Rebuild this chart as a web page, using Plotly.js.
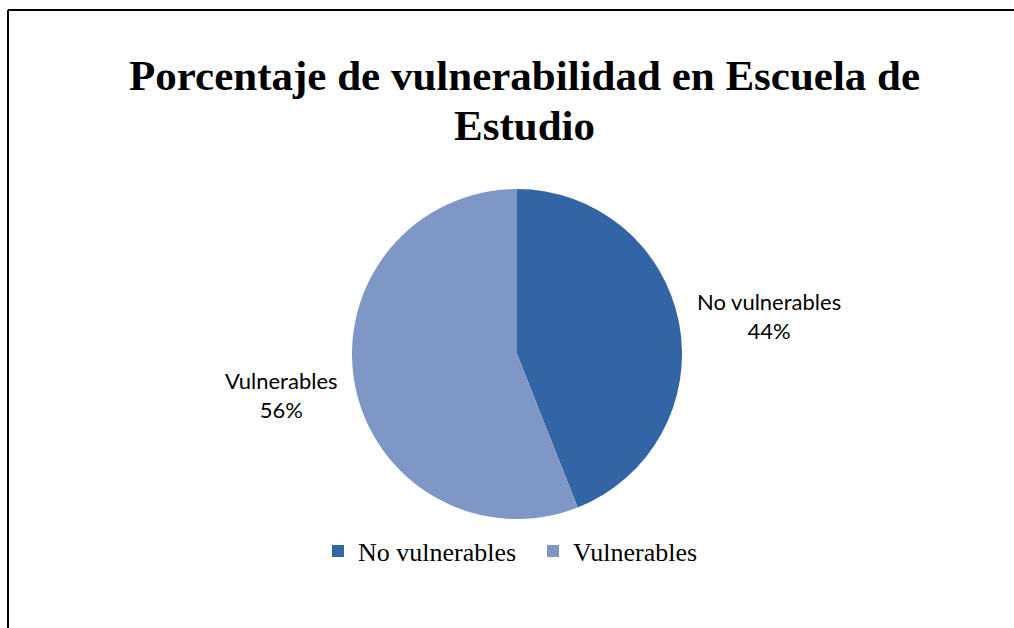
<!DOCTYPE html>
<html>
<head>
<meta charset="utf-8">
<script src="https://cdn.plot.ly/plotly-3.0.1.min.js"></script>
<style>html,body{margin:0;padding:0;background:#fff;}#chart{width:1014px;height:628px;}</style>
</head>
<body>
<div id="chart"></div>
<script>
const titleLines = ["Porcentaje de vulnerabilidad en Escuela de", "Estudio"];
const categories = ["No vulnerables", "Vulnerables"];
const percentages = [44, 56];
const sliceColors = ["#3264A6", "#7F97C6"];

const labelPos = [
  {x: 769 / 1014, y: 1 - 316 / 628},
  {x: 281 / 1014, y: 1 - 395 / 628}
];
const titleY = [1 - 75 / 628, 1 - 125 / 628];

const trace = {
  type: "pie",
  labels: categories,
  values: percentages,
  sort: false,
  direction: "clockwise",
  rotation: 0,
  textinfo: "none",
  hoverinfo: "none",
  marker: {colors: sliceColors, line: {width: 0}},
  domain: {x: [352 / 1014, 682 / 1014], y: [1 - 519 / 628, 1 - 189 / 628]}
};

const labelAnns = categories.map((c, i) => ({
  xref: "paper", yref: "paper",
  x: labelPos[i].x, y: labelPos[i].y,
  xanchor: "center", yanchor: "middle",
  text: c + "<br>" + percentages[i] + "%",
  showarrow: false,
  align: "center",
  font: {family: "Lato, 'Liberation Sans', sans-serif", size: 22, color: "#000"}
}));

const titleAnns = titleLines.map((t, i) => ({
  xref: "paper", yref: "paper",
  x: 524 / 1014, y: titleY[i],
  xanchor: "center", yanchor: "middle",
  text: "<b>" + t + "</b>",
  showarrow: false,
  font: {family: "'Liberation Serif', 'Times New Roman', serif", size: 43, color: "#000"}
}));

const layout = {
  width: 1014, height: 628,
  margin: {l: 0, r: 0, t: 0, b: 0},
  paper_bgcolor: "#fff",
  showlegend: true,
  legend: {
    orientation: "h",
    x: 318 / 1014, xanchor: "left",
    y: 1 - 551 / 628, yanchor: "middle",
    entrywidth: 170, entrywidthmode: "pixels",
    font: {family: "'Liberation Serif', 'Times New Roman', serif", size: 26, color: "#000"},
    itemclick: false
  },
  annotations: titleAnns.concat(labelAnns),
  shapes: [
    {type: "line", xref: "paper", yref: "paper", x0: 8 / 1014, x1: 1.01, y0: 1 - 10 / 628, y1: 1 - 10 / 628, line: {color: "#000", width: 2}},
    {type: "line", xref: "paper", yref: "paper", x0: 8 / 1014, x1: 8 / 1014, y0: -0.01, y1: 1 - 10 / 628, line: {color: "#000", width: 2}}
  ]
};

Plotly.newPlot("chart", [trace], layout, {displayModeBar: false, staticPlot: true});
</script>
</body>
</html>
